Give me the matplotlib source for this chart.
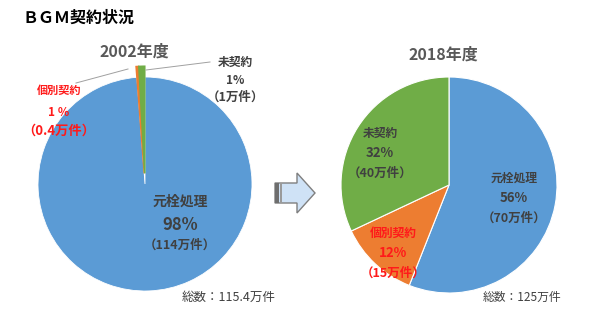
import matplotlib
matplotlib.use('Agg')
import matplotlib.pyplot as plt
from matplotlib.patches import Polygon, Rectangle

plt.rcParams['font.family'] = ['Noto Sans CJK JP', 'DejaVu Sans']

# data
categories = ['元栓処理', '個別契約', '未契約']
counts_2002 = [114, 0.4, 1]      # 万件
counts_2018 = [70, 15, 40]       # 万件
pct_2002 = ['98%', '1 ％', '1%']
pct_2018 = ['56%', '12%', '32%']
cnt_2002 = ['（114万件）', '（0.4万件）', '（1万件）']
cnt_2018 = ['（70万件）', '（15万件）', '（40万件）']
total_2002 = '総数：115.4万件'
total_2018 = '総数：125万件'
colors = ['#5B9BD5', '#ED7D31', '#70AD47']

W, H = 590, 323
fig = plt.figure(figsize=(W / 100, H / 100), dpi=100)

# overlay axes in pixel coordinates (below pies)
ov = fig.add_axes([0, 0, 1, 1], zorder=0)
ov.set_xlim(0, W)
ov.set_ylim(H, 0)
ov.axis('off')


def pie_axes(cx, cy, r, lim=1.3):
    s = r * lim
    return fig.add_axes([(cx - s) / W, 1 - (cy + s) / H, 2 * s / W, 2 * s / H], zorder=1)


ax1 = pie_axes(145, 184, 107)
w1, _ = ax1.pie(counts_2002, colors=colors, startangle=90, counterclock=False,
                explode=[0, 0.1, 0.1], wedgeprops=dict(edgecolor='white', linewidth=0.6))
for w in w1[1:]:
    w.set_edgecolor(w.get_facecolor())
    w.set_linewidth(1.2)
ax1.set_xlim(-1.3, 1.3)
ax1.set_ylim(-1.3, 1.3)
ax1.set_aspect('equal')
ax1.axis('off')

ax2 = pie_axes(449, 185, 108)
ax2.pie(counts_2018, colors=colors, startangle=90, counterclock=False,
        wedgeprops=dict(edgecolor='white', linewidth=0.8))
ax2.set_xlim(-1.3, 1.3)
ax2.set_ylim(-1.3, 1.3)
ax2.set_aspect('equal')
ax2.axis('off')

# text layer above pies
tx = fig.add_axes([0, 0, 1, 1], zorder=2)
tx.set_xlim(0, W)
tx.set_ylim(H, 0)
tx.axis('off')
tx.patch.set_alpha(0)

dark = '#404040'
red = '#FF1A1A'

tx.text(22, 18, 'ＢＧＭ契約状況', fontsize=11.5, fontweight='bold', color='black',
        va='center', ha='left')
tx.text(134, 52, '2002年度', fontsize=11.5, fontweight='bold', color='#595959',
        ha='center', va='center')
tx.text(443, 55, '2018年度', fontsize=11.5, fontweight='bold', color='#595959',
        ha='center', va='center')


def label(x, y, i, pcts, cnts, color, gap, fs):
    tx.text(x, y + gap[0], categories[i], fontsize=fs[0], fontweight='bold', color=color,
            ha='center', va='center')
    tx.text(x, y + gap[1], pcts[i], fontsize=fs[1], fontweight='bold', color=color,
            ha='center', va='center')
    tx.text(x, y + gap[2], cnts[i], fontsize=fs[2], fontweight='bold', color=color,
            ha='center', va='center')


# 2002 labels
label(180, 202, 0, pct_2002, cnt_2002, dark, (0, 23, 43), (10, 12, 9))
label(59, 90, 1, pct_2002, cnt_2002, red, (0, 22, 41), (8, 8.5, 9.5))
label(235, 62, 2, pct_2002, cnt_2002, dark, (0, 19, 35), (8.5, 8.5, 9))
tx.plot([76, 128], [83, 69], color='#A0A0A0', lw=0.7)
tx.plot([146, 210], [70, 62], color='#A0A0A0', lw=0.7)
tx.text(229, 297, total_2002, fontsize=9, color=dark, ha='center', va='center')

# 2018 labels
label(514, 178, 0, pct_2018, cnt_2018, dark, (0, 20, 40), (8.5, 9.5, 9))
label(393, 233, 1, pct_2018, cnt_2018, red, (0, 20, 40), (8.5, 9.5, 9))
label(380, 133, 2, pct_2018, cnt_2018, dark, (0, 20, 40), (8.5, 9.5, 9))
tx.text(522, 297, total_2018, fontsize=8.5, color=dark, ha='center', va='center')

# block arrow
ov.add_patch(Polygon([(275, 183), (297, 183), (297, 173), (315, 193),
                      (297, 213), (297, 203), (275, 203)],
                     closed=True, facecolor='#CFE2F6', edgecolor='#7F7F7F', lw=1))
ov.add_patch(Rectangle((275, 183), 4, 20, facecolor='#6E6E6E', edgecolor='none'))
ov.add_patch(Rectangle((280, 183), 2, 20, facecolor='#9A9A9A', edgecolor='none'))

fig.savefig('out.png', dpi=100)
